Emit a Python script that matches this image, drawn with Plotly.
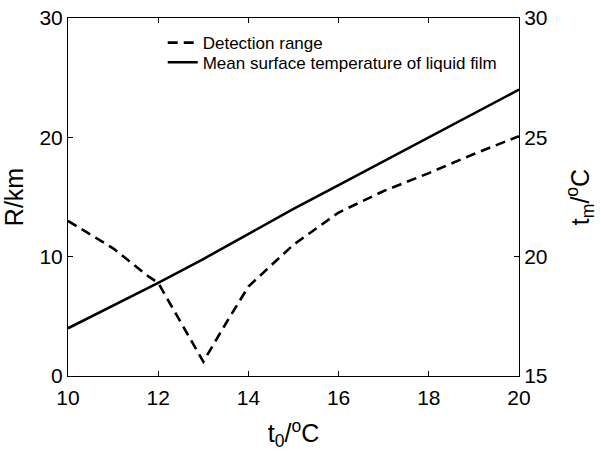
import plotly.graph_objects as go

t0 = [10, 11, 11.8, 12, 12.5, 13, 13.5, 14, 15, 16, 17, 18, 19, 20]
R_km = [13.0, 10.7, 8.3, 7.8, 4.5, 1.2, 4.4, 7.5, 11.0, 13.7, 15.5, 17.0, 18.6, 20.1]
t0_m = [10, 11, 12, 13, 14, 15, 16, 17, 18, 19, 20]
tm = [17.0, 17.95, 18.9, 19.9, 20.95, 22.0, 23.0, 24.0, 25.0, 26.0, 27.0]

fig = go.Figure()
fig.add_trace(go.Scatter(x=t0, y=R_km, mode="lines", name="Detection range",
                         legend="legend",
                         line=dict(color="black", width=2.6, dash="10px,6px")))
fig.add_trace(go.Scatter(x=t0_m, y=tm, mode="lines", yaxis="y2",
                         name="Mean surface temperature of liquid film",
                         legend="legend2",
                         line=dict(color="black", width=2.6)))

font = dict(family="Liberation Sans, Arial, sans-serif", color="black")
leg = dict(xanchor="left", yanchor="middle", bgcolor="rgba(0,0,0,0)",
           font=dict(size=17, **font), itemwidth=30)
fig.update_layout(
    width=601, height=454,
    margin=dict(l=68, r=82, t=18, b=78, autoexpand=False),
    plot_bgcolor="white", paper_bgcolor="white",
    font=dict(size=21, **font),
    showlegend=True,
    legend=dict(x=0.21, y=0.930, **leg),
    legend2=dict(x=0.21, y=0.875, **leg),
    xaxis=dict(range=[10, 20], tickvals=[10, 12, 14, 16, 18, 20],
               ticks="inside", ticklen=5, tickcolor="black", ticklabelstandoff=3,
               showline=True, linecolor="black", linewidth=1, mirror="ticks",
               showgrid=False, zeroline=False,
               title=dict(text="t<sub>0</sub>/<sup>o</sup>C", standoff=16)),
    yaxis=dict(range=[0, 30], tickvals=[0, 10, 20, 30],
               ticks="inside", ticklen=5, tickcolor="black",
               showline=True, linecolor="black", linewidth=1,
               showgrid=False, zeroline=False,
               title=dict(text="R/km", standoff=10)),
    yaxis2=dict(range=[15, 30], tickvals=[15, 20, 25, 30], overlaying="y", side="right",
                ticks="inside", ticklen=5, tickcolor="black",
                showline=True, linecolor="black", linewidth=1,
                showgrid=False, zeroline=False,
                title=dict(text="t<sub>m</sub>/<sup>o</sup>C", standoff=24)),
)
fig.write_html("out.html")
